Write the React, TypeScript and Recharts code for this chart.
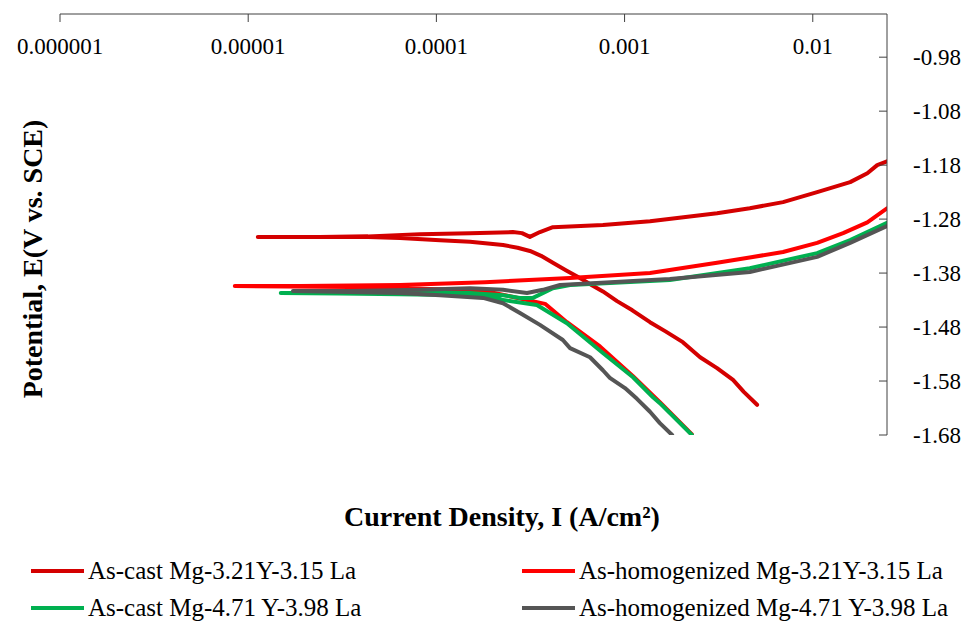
import React from "react";
import { LineChart, Line, XAxis, YAxis } from "recharts";

const FONT = '"Liberation Serif", "Times New Roman", serif';

const seriesNames = [
  "As-cast Mg-3.21Y-3.15 La",
  "As-homogenized Mg-3.21Y-3.15 La",
  "As-cast Mg-4.71 Y-3.98 La",
  "As-homogenized Mg-4.71 Y-3.98 La",
];
const seriesColors = ["#d40000", "#ff0000", "#00b050", "#555555"];

// current density (A/cm2) and potential (V vs SCE), cathodic end -> Ecorr -> anodic end
const castLaCurrent = [
  5.06e-3, 4.3e-3, 3.77e-3, 3.1e-3, 2.52e-3, 2.04e-3, 1.65e-3, 1.365e-3, 1.1e-3, 9.12e-4,
  7.67e-4, 6.6e-4, 5.79e-4, 4.9e-4, 4.16e-4, 3.6e-4, 3.14e-4, 2.7e-4, 2.26e-4, 1.51e-4,
  1.045e-4, 6.4e-5, 4.33e-5, 2.4e-5, 1.125e-5, 2.4e-5, 4.33e-5, 8.17e-5, 1.51e-4, 2.55e-4,
  2.85e-4, 3.14e-4, 3.55e-4, 4.16e-4, 7.67e-4, 1.365e-3, 3.1e-3, 4.63e-3, 6.95e-3, 1.055e-2,
  1.58e-2, 1.95e-2, 2.2e-2, 2.48e-2,
];
const castLaPotential = [
  -1.624, -1.6, -1.578, -1.556, -1.536, -1.508, -1.488, -1.471, -1.449, -1.432,
  -1.414, -1.401, -1.389, -1.375, -1.361, -1.348, -1.339, -1.333, -1.328, -1.322,
  -1.319, -1.315, -1.313, -1.313, -1.313, -1.313, -1.312, -1.308, -1.306, -1.304,
  -1.306, -1.313, -1.304, -1.295, -1.291, -1.284, -1.269, -1.26, -1.2485, -1.23,
  -1.2115, -1.195, -1.18, -1.173,
];

const homLaCurrent = [
  2.28e-3, 1.54e-3, 1.109e-3, 7.4e-4, 4.94e-4, 3.78e-4, 2.78e-4, 1.92e-4, 1.045e-4, 3.47e-5,
  8.49e-6, 1.88e-5, 6.4e-5, 1.81e-4, 5.13e-4, 1.365e-3, 3.1e-3, 6.95e-3, 1.055e-2, 1.45e-2,
  1.95e-2, 2.48e-2,
];
const homLaPotential = [
  -1.679, -1.619, -1.571, -1.516, -1.471, -1.437, -1.427, -1.415, -1.41, -1.406,
  -1.404, -1.404, -1.402, -1.397, -1.389, -1.38, -1.361, -1.341, -1.324, -1.306,
  -1.286, -1.26,
];

const castYCurrent = [
  2.28e-3, 1.54e-3, 1.416e-3, 1.109e-3, 7.67e-4, 4.94e-4, 3.42e-4, 2.26e-4, 1.92e-4, 1.51e-4,
  6.4e-5, 3.07e-5, 1.49e-5, 3.07e-5, 8.17e-5, 1.51e-4, 2.26e-4, 2.78e-4, 3.26e-4, 4.16e-4,
  5.13e-4, 1.74e-3, 4.63e-3, 1.055e-2, 1.58e-2, 2.48e-2,
];
const castYPotential = [
  -1.68, -1.621, -1.61, -1.573, -1.528, -1.473, -1.439, -1.43, -1.423, -1.421,
  -1.419, -1.418, -1.417, -1.417, -1.417, -1.417, -1.421, -1.426, -1.426, -1.408,
  -1.402, -1.393, -1.371, -1.343, -1.319, -1.287,
];

const homYCurrent = [
  1.79e-3, 1.54e-3, 1.365e-3, 1.164e-3, 1.005e-3, 8.35e-4, 7.67e-4, 6.55e-4, 5.13e-4, 4.7e-4,
  3.55e-4, 2.78e-4, 2.26e-4, 1.77e-4, 1.045e-4, 6.4e-5, 3.47e-5, 1.73e-5, 3.47e-5, 8.17e-5,
  1.51e-4, 2.26e-4, 3.03e-4, 3.68e-4, 4.54e-4, 1.74e-3, 4.63e-3, 1.055e-2, 1.58e-2, 2.48e-2,
];
const homYPotential = [
  -1.68, -1.658, -1.637, -1.613, -1.593, -1.574, -1.56, -1.536, -1.519, -1.504,
  -1.476, -1.454, -1.436, -1.426, -1.421, -1.417, -1.415, -1.413, -1.413, -1.411,
  -1.408, -1.411, -1.417, -1.411, -1.402, -1.391, -1.378, -1.35, -1.324, -1.293,
];

const xTicks = [1e-6, 1e-5, 1e-4, 1e-3, 1e-2];
const xTickLabels = ["0.000001", "0.00001", "0.0001", "0.001", "0.01"];
const yTicks = [-1.68, -1.58, -1.48, -1.38, -1.28, -1.18, -1.08, -0.98];

const toPoints = (current: number[], potential: number[]) =>
  current.map((c, i) => ({ current: c, potential: potential[i] }));

const series = [
  toPoints(castLaCurrent, castLaPotential),
  toPoints(homLaCurrent, homLaPotential),
  toPoints(castYCurrent, castYPotential),
  toPoints(homYCurrent, homYPotential),
];

const AXIS_COLOR = "#404040";

// right axis: tick marks point into the plot, labels sit outside
const RightTick = (props: any) => {
  const { x, y, payload } = props;
  return (
    <g>
      <line x1={x - 34} x2={x - 26} y1={y} y2={y} stroke={AXIS_COLOR} strokeWidth={1} />
      <text x={x} y={y} dy="0.35em" textAnchor="start" fontSize={23} fontFamily={FONT} fill="#000">
        {payload.value.toFixed(2)}
      </text>
    </g>
  );
};

export default function App() {
  return (
    <div style={{ position: "absolute", left: 0, top: 0, width: 970, height: 624, background: "#fff" }}>
      <LineChart width={970} height={624} margin={{ top: 14, right: 0, left: 60, bottom: 189 }}>
        <XAxis
          type="number"
          dataKey="current"
          scale="log"
          domain={[1e-6, 0.0248]}
          allowDataOverflow
          orientation="top"
          mirror
          ticks={xTicks}
          tickFormatter={(v: number) => xTickLabels[xTicks.indexOf(v)]}
          tick={{ fontSize: 23, fill: "#000", fontFamily: FONT }}
          tickSize={8}
          tickMargin={16}
          axisLine={{ stroke: AXIS_COLOR }}
          tickLine={{ stroke: AXIS_COLOR }}
        />
        <YAxis
          type="number"
          orientation="right"
          width={83}
          domain={[-1.68, -0.9]}
          allowDataOverflow
          ticks={yTicks}
          tick={<RightTick />}
          tickSize={0}
          tickMargin={26}
          tickLine={false}
          axisLine={{ stroke: AXIS_COLOR }}
        />
        {series.map((pts, i) => (
          <Line
            key={seriesNames[i]}
            data={pts}
            dataKey="potential"
            name={seriesNames[i]}
            type="linear"
            stroke={seriesColors[i]}
            strokeWidth={4}
            strokeLinecap="round"
            strokeLinejoin="round"
            dot={false}
            activeDot={false}
            isAnimationActive={false}
          />
        ))}
      </LineChart>

      <div
        style={{
          position: "absolute",
          left: 33,
          top: 259,
          transform: "translate(-50%, -50%) rotate(-90deg)",
          whiteSpace: "nowrap",
          fontFamily: FONT,
          fontWeight: "bold",
          fontSize: 28,
          lineHeight: "30px",
        }}
      >
        Potential, E(V vs. SCE)
      </div>
      <div
        style={{
          position: "absolute",
          left: 502,
          top: 517,
          transform: "translate(-50%, -50%)",
          whiteSpace: "nowrap",
          fontFamily: FONT,
          fontWeight: "bold",
          fontSize: 28,
          lineHeight: "30px",
        }}
      >
        Current Density, I (A/cm²)
      </div>

      {seriesNames.map((name, i) => (
        <div
          key={name}
          style={{
            position: "absolute",
            left: i % 2 === 0 ? 31 : 522,
            top: (i < 2 ? 571 : 608) - 15,
            height: 30,
            display: "flex",
            alignItems: "center",
            whiteSpace: "nowrap",
            fontFamily: FONT,
            fontSize: 25,
          }}
        >
          <span style={{ display: "inline-block", width: 53, height: 4, background: seriesColors[i], marginRight: 4 }} />
          <span>{name}</span>
        </div>
      ))}
    </div>
  );
}
